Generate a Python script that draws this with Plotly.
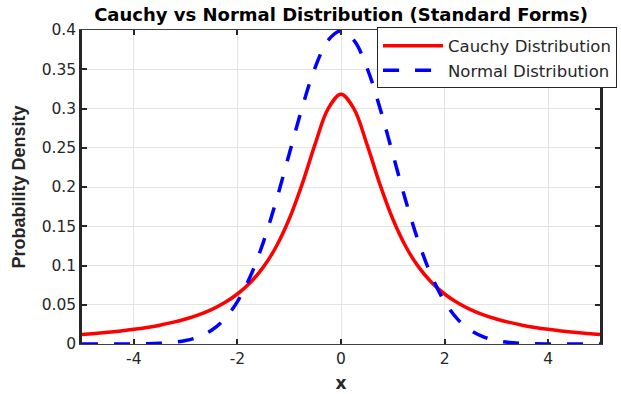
import plotly.graph_objects as go

x_vals = [-5.0, -4.75, -4.5, -4.25, -4.0, -3.75, -3.5, -3.25, -3.0, -2.75, -2.5, -2.25, -2.0,
          -1.75, -1.5, -1.25, -1.0, -0.75, -0.5, -0.25, 0.0, 0.25, 0.5, 0.75, 1.0, 1.25, 1.5,
          1.75, 2.0, 2.25, 2.5, 2.75, 3.0, 3.25, 3.5, 3.75, 4.0, 4.25, 4.5, 4.75, 5.0]

cauchy_vals = [0.0122, 0.0135, 0.0150, 0.0167, 0.0187, 0.0211, 0.0240, 0.0275, 0.0318, 0.0372,
               0.0439, 0.0525, 0.0637, 0.0784, 0.0979, 0.1242, 0.1592, 0.2037, 0.2546, 0.2996,
               0.3183,
               0.2996, 0.2546, 0.2037, 0.1592, 0.1242, 0.0979, 0.0784, 0.0637, 0.0525, 0.0439,
               0.0372, 0.0318, 0.0275, 0.0240, 0.0211, 0.0187, 0.0167, 0.0150, 0.0135, 0.0122]

normal_vals = [0.0000, 0.0000, 0.0000, 0.0000, 0.0001, 0.0003, 0.0009, 0.0020, 0.0044, 0.0091,
               0.0175, 0.0317, 0.0540, 0.0863, 0.1295, 0.1826, 0.2420, 0.3011, 0.3521, 0.3867,
               0.3989,
               0.3867, 0.3521, 0.3011, 0.2420, 0.1826, 0.1295, 0.0863, 0.0540, 0.0317, 0.0175,
               0.0091, 0.0044, 0.0020, 0.0009, 0.0003, 0.0001, 0.0000, 0.0000, 0.0000, 0.0000]

x_ticks = [-4, -2, 0, 2, 4]
y_ticks = [0, 0.05, 0.1, 0.15, 0.2, 0.25, 0.3, 0.35, 0.4]
y_tick_labels = ["0", "0.05", "0.1", "0.15", "0.2", "0.25", "0.3", "0.35", "0.4"]

WIDE = "DejaVu Sans, Verdana, sans-serif"
NARROW = "Liberation Sans, Arial, sans-serif"
TXT = "#262626"

fig = go.Figure()
fig.add_trace(go.Scatter(x=x_vals, y=cauchy_vals, mode="lines", name="Cauchy Distribution",
                         line=dict(color="#ff0000", width=3.5, shape="spline")))
fig.add_trace(go.Scatter(x=x_vals, y=normal_vals, mode="lines", name="Normal Distribution",
                         line=dict(color="#0000ff", width=3.5, dash="16px,16px", shape="spline")))

fig.update_layout(
    width=621, height=394,
    margin=dict(l=82, r=21, t=30, b=50, autoexpand=False),
    paper_bgcolor="white", plot_bgcolor="white",
    font=dict(family=WIDE, size=16, color=TXT),
    title=dict(text="<b>Cauchy vs Normal Distribution (Standard Forms)</b>",
               x=0.5, xref="paper", xanchor="center",
               y=1 - 15 / 394, yref="container", yanchor="middle",
               font=dict(family=WIDE, size=18, color="black")),
    legend=dict(x=(377 - 82) / 518, xanchor="left", y=1.008, yanchor="top",
                bgcolor="white", bordercolor="#262626", borderwidth=1,
                font=dict(family=WIDE, size=16.5, color=TXT),
                itemwidth=60, tracegroupgap=0),
    showlegend=True,
)

fig.update_xaxes(range=[-5, 5], tickvals=x_ticks, ticktext=[str(v) for v in x_ticks],
                 automargin=True,
                 showgrid=True, gridcolor="#e3e3e3", gridwidth=1, zeroline=False,
                 showline=True, linecolor="#404040", linewidth=1, mirror="ticks",
                 ticks="inside", ticklen=5, tickcolor="#262626", tickwidth=1.5,
                 tickfont=dict(family=WIDE, size=15.5, color=TXT),
                 title=dict(text="<b>x</b>", font=dict(family=WIDE, size=17, color=TXT), standoff=10))
fig.update_yaxes(range=[0, 0.4], tickvals=y_ticks, ticktext=y_tick_labels,
                 automargin=True,
                 showgrid=True, gridcolor="#e3e3e3", gridwidth=1, zeroline=False,
                 showline=True, linecolor="#262626", linewidth=2.5, mirror="ticks",
                 ticks="inside", ticklen=5, tickcolor="#262626", tickwidth=1.5,
                 tickfont=dict(family=WIDE, size=15.5, color=TXT),
                 title=dict(text="<b>Probability Density</b>", font=dict(family=NARROW, size=18, color=TXT), standoff=12))

fig.write_html("out.html")
